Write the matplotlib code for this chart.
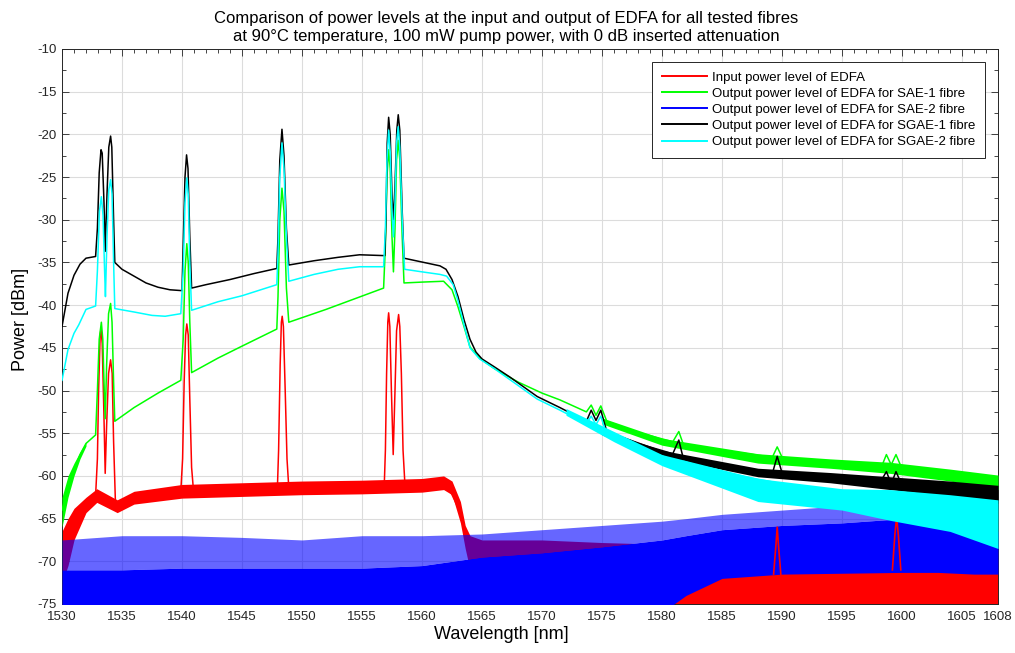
import numpy as np
import matplotlib.pyplot as plt
from matplotlib.ticker import MultipleLocator

plt.rcParams['font.family'] = ['Liberation Sans', 'DejaVu Sans']
plt.rcParams['axes.unicode_minus'] = False

# ---- input power of EDFA (red) ----
red_wl = [1530.0, 1530.5, 1531.0, 1531.5, 1532.0, 1532.8,
          1532.95, 1533.05, 1533.18, 1533.25, 1533.35, 1533.48, 1533.6, 1533.72, 1533.88,
          1534.05, 1534.18, 1534.3, 1534.45, 1534.6, 1536.3, 1539.9,
          1540.05, 1540.18, 1540.3, 1540.4, 1540.52, 1540.65, 1540.8, 1540.95,
          1546.0, 1547.95, 1548.05, 1548.18, 1548.28, 1548.35, 1548.45, 1548.6, 1548.75, 1548.9,
          1552.0, 1556.85, 1556.95, 1557.05, 1557.15, 1557.22, 1557.32, 1557.45, 1557.6,
          1557.75, 1557.88, 1558.05, 1558.15, 1558.28, 1558.42, 1558.6,
          1561.8, 1562.3, 1562.7, 1563.2, 1563.6, 1564.0, 1564.5]
red_db = [-69.5, -67.5, -65.5, -64.2, -63.4, -62.3,
          -58.0, -50.0, -43.5, -42.8, -44.5, -52.0, -59.7, -54.0, -48.0,
          -46.4, -48.0, -56.0, -63.0, -63.6, -62.4, -61.8,
          -58.0, -49.0, -43.5, -42.2, -43.5, -51.0, -59.0, -61.6,
          -61.6, -61.4, -57.0, -47.0, -42.0, -41.3, -42.5, -50.0, -58.0, -61.4,
          -61.3, -61.3, -57.0, -48.0, -42.0, -40.9, -42.5, -50.0, -57.5,
          -50.0, -43.0, -41.1, -42.5, -48.0, -57.0, -61.6,
          -60.9, -61.6, -62.8, -64.3, -67.0, -68.7, -69.5]
# noise band of the input spectrum
red_band_wl = [1530, 1530.5, 1531, 1532, 1532.9, 1534.6, 1536, 1540, 1545, 1550, 1555,
               1560, 1561.8, 1562.5, 1563.2, 1563.6, 1564, 1565, 1570, 1575, 1580,
               1585, 1590, 1595, 1600, 1605, 1608]
red_band_hi = [-66.5, -65.0, -63.8, -62.5, -61.5, -62.8, -61.8, -61.0, -60.8, -60.6, -60.5,
               -60.3, -60.0, -60.6, -63.0, -65.8, -67.0, -67.5, -67.5, -67.8, -68.0,
               -68.5, -69.0, -69.0, -69.0, -69.5, -69.5]
red_band_lo = [-72.5, -70.5, -67.5, -64.3, -63.1, -64.3, -63.3, -62.6, -62.4, -62.2, -62.1,
               -61.9, -61.6, -62.2, -65.5, -68.5, -71.0, -73.0, -76.0, -76.0, -76.0,
               -76.0, -76.0, -76.0, -76.0, -76.0, -76.0]
# residual input peaks visible at the long-wavelength end
red_peak1_wl = [1589.3, 1589.5, 1589.6, 1589.7, 1589.9]
red_peak1_db = [-71.5, -68.0, -66.0, -68.0, -71.5]
red_peak2_wl = [1599.2, 1599.4, 1599.55, 1599.7, 1599.9]
red_peak2_db = [-71.0, -67.0, -64.8, -67.0, -71.0]

# ---- output power, SAE-1 fibre (green) ----
green_wl = [1530.0, 1530.5, 1531.0, 1531.5, 1532.0, 1532.8,
            1532.95, 1533.1, 1533.28, 1533.4, 1533.52, 1533.6, 1533.72, 1533.88, 1534.05,
            1534.17, 1534.3, 1534.4, 1536.0, 1538.0, 1539.9,
            1540.1, 1540.25, 1540.4, 1540.52, 1540.65, 1540.8, 1543.0, 1545.0, 1547.9,
            1548.0, 1548.15, 1548.33, 1548.5, 1548.7, 1548.9, 1552.0, 1556.8,
            1556.95, 1557.08, 1557.22, 1557.35, 1557.5, 1557.62, 1557.75, 1557.88, 1558.02,
            1558.15, 1558.35, 1558.5, 1560.0, 1561.8, 1562.5, 1563.0, 1563.5, 1564.0,
            1564.8, 1566.0, 1568.0, 1570.0, 1571.5, 1573.7, 1574.1, 1574.5, 1574.9, 1575.4,
            1578.0, 1580.9, 1581.4, 1581.8, 1585.0, 1589.2, 1589.6, 1590.1, 1594.0,
            1598.3, 1598.7, 1599.1, 1599.5, 1600.1, 1604.0, 1608.0]
green_db = [-64.0, -61.2, -59.3, -57.5, -56.2, -55.2,
            -50.0, -44.0, -42.0, -44.0, -50.0, -53.3, -47.0, -41.0, -39.8,
            -42.0, -49.0, -53.6, -52.0, -50.3, -48.8,
            -44.0, -36.0, -32.8, -35.0, -42.0, -47.9, -46.2, -44.8, -42.8,
            -39.0, -30.0, -26.3, -29.0, -38.0, -42.0, -40.5, -38.0,
            -33.0, -25.0, -21.8, -24.0, -32.0, -36.1, -31.0, -23.0, -20.7,
            -23.0, -32.0, -37.4, -37.3, -37.2, -38.2, -40.2, -42.5, -44.9,
            -46.2, -47.4, -49.0, -50.3, -51.1, -52.5, -51.7, -52.9, -51.8, -53.6,
            -54.9, -56.0, -54.8, -56.4, -57.0, -57.8, -56.6, -58.1, -58.5,
            -58.9, -57.5, -58.7, -57.5, -59.5, -60.0, -60.8]
# noisy start and noisy tail of the SAE-1 spectrum
green_head_wl = [1530, 1530.5, 1531, 1531.5, 1532]
green_head_hi = [-62.5, -60.0, -58.5, -57.2, -56.0]
green_head_lo = [-66.0, -62.5, -60.0, -58.0, -56.5]
green_tail_wl = [1575, 1580, 1588, 1594, 1599, 1604, 1608]
green_tail_hi = [-53.2, -55.6, -57.4, -58.0, -58.4, -59.2, -59.9]
green_tail_lo = [-53.9, -56.4, -58.5, -59.1, -59.7, -60.6, -61.6]

# ---- output power, SAE-2 fibre (blue) - only noise floor ----
blue_wl = [1530, 1535, 1540, 1545, 1550, 1555, 1560, 1565, 1570, 1575, 1580,
           1582, 1585, 1590, 1595, 1600, 1603, 1606, 1608]
blue_spike = [-67.5, -67.0, -67.0, -67.2, -67.5, -67.0, -67.0, -66.8, -66.3, -65.8, -65.3,
              -65.0, -64.5, -64.0, -63.5, -63.0, -64.0, -65.5, -66.5]
blue_body = [-71.0, -71.0, -70.8, -70.8, -70.8, -70.8, -70.5, -69.5, -69.0, -68.3, -67.5,
             -67.0, -66.3, -65.8, -65.5, -65.0, -65.8, -67.0, -68.3]
blue_floor = [-76.0, -76.0, -76.0, -76.0, -76.0, -76.0, -76.0, -76.0, -76.0, -76.0, -76.0,
              -74.0, -72.0, -71.5, -71.4, -71.3, -71.3, -71.5, -71.5]

# ---- output power, SGAE-1 fibre (black) ----
black_wl = [1530.0, 1530.5, 1531.0, 1531.5, 1532.0, 1532.8,
            1532.95, 1533.1, 1533.25, 1533.35, 1533.5, 1533.6, 1533.75, 1533.9, 1534.05,
            1534.15, 1534.3, 1534.4, 1535.0, 1536.0, 1537.0, 1538.0, 1539.0, 1540.0,
            1540.1, 1540.25, 1540.38, 1540.5, 1540.65, 1540.8, 1542.0, 1544.0, 1546.0, 1547.9,
            1548.0, 1548.15, 1548.33, 1548.5, 1548.7, 1548.9, 1551.0, 1553.0, 1554.8, 1556.9,
            1557.0, 1557.1, 1557.22, 1557.35, 1557.5, 1557.62, 1557.75, 1557.9, 1558.02,
            1558.15, 1558.35, 1558.5, 1559.5, 1560.5, 1561.5, 1562.0, 1562.5, 1563.0,
            1563.5, 1564.0, 1564.5, 1565.0, 1566.0, 1567.3, 1569.6, 1571.5, 1573.7,
            1574.1, 1574.5, 1574.9, 1575.4, 1578.0, 1580.9, 1581.4, 1581.8, 1585.0,
            1589.2, 1589.6, 1590.1, 1594.0, 1598.2, 1598.7, 1599.1, 1599.5, 1600.1,
            1604.0, 1608.0]
black_db = [-42.5, -38.6, -36.5, -35.2, -34.5, -34.3,
            -31.0, -24.5, -21.8, -22.2, -28.0, -33.7, -27.0, -21.5, -20.2,
            -21.5, -30.0, -35.0, -35.8, -36.6, -37.4, -37.9, -38.2, -38.3,
            -33.0, -25.0, -22.4, -24.0, -32.0, -38.0, -37.6, -37.0, -36.3, -35.7,
            -32.0, -23.0, -19.4, -22.5, -31.0, -35.3, -34.8, -34.4, -34.1, -34.2,
            -30.0, -21.0, -18.0, -20.0, -27.0, -30.0, -26.0, -19.5, -17.7,
            -19.5, -29.0, -34.5, -34.8, -35.1, -35.4, -35.8, -37.0, -39.0,
            -41.7, -44.0, -45.5, -46.3, -47.2, -48.4, -50.7, -52.0, -53.6,
            -52.3, -53.5, -52.3, -54.8, -56.2, -57.4, -55.8, -58.1, -58.9,
            -59.7, -57.7, -60.1, -60.4, -60.7, -59.5, -60.9, -59.5, -61.4,
            -61.6, -62.2]
black_tail_wl = [1575, 1580, 1588, 1594, 1599, 1604, 1608]
black_tail_hi = [-54.5, -57.0, -59.1, -59.6, -60.1, -60.6, -61.1]
black_tail_lo = [-55.2, -57.8, -60.1, -60.8, -61.6, -62.4, -63.2]

# ---- output power, SGAE-2 fibre (cyan) ----
cyan_wl = [1530.0, 1530.5, 1531.0, 1531.4, 1532.0, 1532.8,
           1532.95, 1533.12, 1533.28, 1533.42, 1533.55, 1533.62, 1533.75, 1533.9, 1534.05,
           1534.17, 1534.3, 1534.4, 1536.0, 1537.5, 1538.6, 1539.9,
           1540.1, 1540.25, 1540.4, 1540.52, 1540.65, 1540.8, 1543.0, 1545.0, 1547.9,
           1548.0, 1548.15, 1548.33, 1548.5, 1548.7, 1548.9, 1551.0, 1553.0, 1554.8, 1556.8,
           1556.95, 1557.08, 1557.22, 1557.35, 1557.5, 1557.62, 1557.75, 1557.88, 1558.02,
           1558.15, 1558.35, 1558.55, 1560.0, 1561.5, 1562.05, 1562.6, 1563.0, 1563.5,
           1564.0, 1564.8, 1566.0, 1567.3, 1569.6, 1571.5, 1573.7, 1574.1, 1574.5, 1574.9,
           1575.4, 1578.0, 1580.9, 1581.4, 1581.8, 1585.0, 1589.2, 1589.6, 1590.1, 1594.0,
           1598.2, 1599.5, 1600.1, 1604.0, 1608.0]
cyan_db = [-48.8, -45.2, -43.3, -42.3, -40.5, -40.1,
           -36.0, -29.0, -27.3, -29.5, -36.0, -39.0, -32.0, -26.5, -25.3,
           -27.0, -35.0, -40.4, -40.8, -41.2, -41.3, -41.0,
           -36.0, -28.0, -25.1, -27.0, -35.0, -40.6, -39.6, -38.9, -37.6,
           -34.0, -25.0, -21.0, -24.0, -32.0, -37.2, -36.4, -35.8, -35.5, -35.5,
           -31.0, -23.0, -19.5, -22.0, -29.0, -32.0, -28.0, -21.0, -19.1,
           -21.5, -30.0, -35.8, -36.1, -36.4, -36.6, -37.6, -39.5, -42.3,
           -45.0, -46.3, -47.4, -48.7, -51.0, -52.3, -53.9, -53.0, -54.0, -53.0,
           -55.2, -56.7, -58.1, -58.8, -58.3, -59.6, -60.7, -61.8, -61.0, -61.8,
           -62.6, -63.5, -63.2, -64.2, -65.2]
cyan_tail_wl = [1572, 1576, 1580, 1588, 1595, 1599, 1604, 1608]
cyan_tail_hi = [-52.1, -54.8, -57.5, -60.3, -61.5, -61.6, -62.2, -62.8]
cyan_tail_lo = [-52.9, -56.0, -58.8, -63.0, -64.0, -65.2, -66.5, -68.5]

xticks = list(range(1530, 1606, 5)) + [1608]
yticks = list(range(-75, -9, 5))

RED, GREEN, BLUE, BLACK, CYAN = '#ff0000', '#00ff00', '#0000ff', '#000000', '#00ffff'

fig = plt.figure(figsize=(10.15, 6.53), dpi=100)
ax = fig.add_axes([62 / 1015, 1 - 604 / 653, 936 / 1015, 555 / 653])

lw = 1.1
# red input
ax.fill_between(red_band_wl, red_band_lo, red_band_hi, color=RED, lw=0, zorder=2)
ax.plot(red_wl, red_db, color=RED, lw=lw, zorder=2, label='Input power level of EDFA')
# green SAE-1
ax.fill_between(green_head_wl, green_head_lo, green_head_hi, color=GREEN, lw=0, zorder=3)
ax.fill_between(green_tail_wl, green_tail_lo, green_tail_hi, color=GREEN, lw=0, zorder=3)
ax.plot(green_wl, green_db, color=GREEN, lw=lw, zorder=3,
        label='Output power level of EDFA for SAE-1 fibre')
# blue SAE-2
ax.fill_between(blue_wl, blue_floor, blue_body, color=BLUE, lw=0, zorder=4)
ax.fill_between(blue_wl, blue_body, blue_spike, color=BLUE, alpha=0.6, lw=0, zorder=4)
ax.plot([], [], color=BLUE, lw=lw, label='Output power level of EDFA for SAE-2 fibre')
ax.plot(red_peak1_wl, red_peak1_db, color=RED, lw=1.2, zorder=4.5)
ax.plot(red_peak2_wl, red_peak2_db, color=RED, lw=1.2, zorder=4.5)
# black SGAE-1
ax.fill_between(black_tail_wl, black_tail_lo, black_tail_hi, color=BLACK, lw=0, zorder=5)
ax.plot(black_wl, black_db, color=BLACK, lw=lw, zorder=5,
        label='Output power level of EDFA for SGAE-1 fibre')
# cyan SGAE-2
ax.fill_between(cyan_tail_wl, cyan_tail_lo, cyan_tail_hi, color=CYAN, lw=0, zorder=6)
ax.plot(cyan_wl, cyan_db, color=CYAN, lw=lw, zorder=6,
        label='Output power level of EDFA for SGAE-2 fibre')

ax.set_xlim(1530, 1608)
ax.set_ylim(-75, -10)
ax.set_xticks(xticks)
ax.set_yticks(yticks)
ax.xaxis.set_minor_locator(MultipleLocator(1))
ax.yaxis.set_minor_locator(MultipleLocator(2.5))
ax.tick_params(which='both', direction='in', top=True, right=True, labelsize=9.5, colors='#262626')
ax.tick_params(which='major', length=5, width=0.6)
ax.tick_params(which='minor', length=3, width=0.6)
ax.tick_params(axis='x', pad=5)
ax.tick_params(axis='y', pad=4)
ax.grid(True, which='major', color='#dcdcdc', lw=0.8, zorder=0)
ax.set_axisbelow(True)
for s in ax.spines.values():
    s.set_color('#262626')
    s.set_linewidth(0.7)

ax.set_xlabel('Wavelength [nm]', fontsize=13)
ax.xaxis.set_label_coords(0.469, -0.040)
ax.set_ylabel('Power [dBm]', fontsize=13)
ax.yaxis.set_label_coords(-0.035, 0.512)
ax.set_title('Comparison of power levels at the input and output of EDFA for all tested fibres\n'
             'at 90°C temperature, 100 mW pump power, with 0 dB inserted attenuation',
             fontsize=12, pad=6, linespacing=1.2, x=0.475)

leg = ax.legend(loc='upper right', bbox_to_anchor=(0.986, 0.977), fontsize=9.5,
                handlelength=3.4, fancybox=False, framealpha=1, edgecolor='#262626',
                borderpad=0.72, labelspacing=0.3, handletextpad=0.4, borderaxespad=0)
leg.get_frame().set_linewidth(0.7)
for h in leg.get_lines():
    h.set_linewidth(1.4)
leg.set_zorder(10)

fig.savefig('out.png', dpi=100)
